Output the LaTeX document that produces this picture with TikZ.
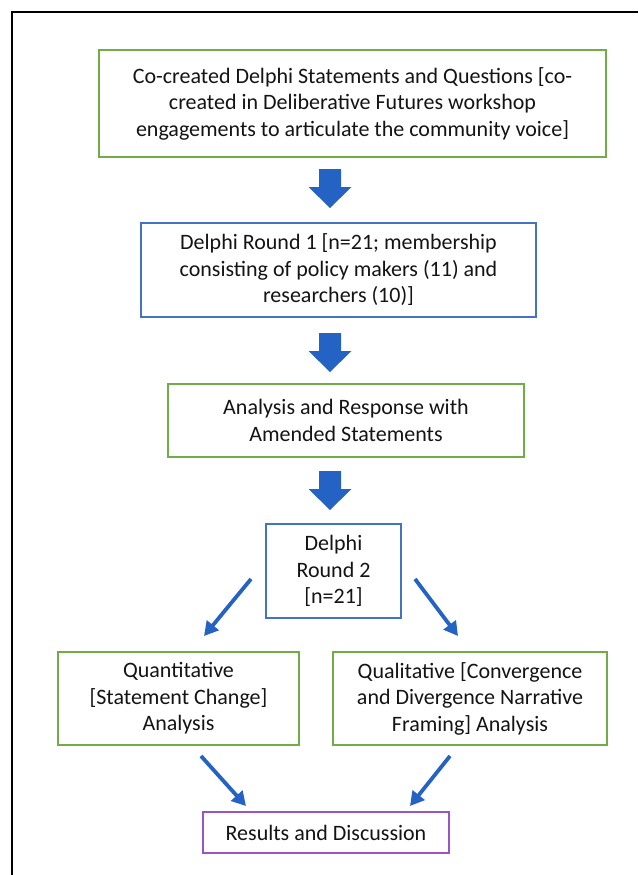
\documentclass[tikz,border=0pt]{standalone}
\usepackage{fontspec}
\setmainfont{Carlito}
\usetikzlibrary{arrows.meta,calc}
\definecolor{boxgreen}{RGB}{112,173,71}
\definecolor{boxblue}{RGB}{68,114,196}
\definecolor{arrblue}{RGB}{36,98,196}
\definecolor{boxpurple}{RGB}{155,85,195}
\definecolor{txt}{RGB}{20,20,20}
\begin{document}
\begin{tikzpicture}[x=1pt,y=-1pt,
  box/.style={draw, line width=1.3pt, rectangle, inner sep=0pt, align=center, text=txt,
    font=\fontsize{22}{26.5}\selectfont},
  gbox/.style={box, draw=boxgreen},
  bbox/.style={box, draw=boxblue},
  pbox/.style={box, draw=boxpurple},
  diag/.style={draw=arrblue, line width=3.8pt, -{Triangle[length=14pt,width=15pt]}},
]
\useasboundingbox (0,0) rectangle (638,875);
\fill[white] (0,0) rectangle (638,875);
\draw[line width=2pt, black] (638,12) -- (12,12) -- (12,876);

\node[gbox, minimum width=507pt, minimum height=107pt] (b1) at (352.5,103.5)
  {Co-created Delphi Statements and Questions [co-\\created in Deliberative Futures workshop\\engagements to articulate the community voice]};
\node[bbox, minimum width=395pt, minimum height=94pt] (b2) at (338.5,270)
  {Delphi Round 1 [n=21; membership\\consisting of policy makers (11) and\\researchers (10)]};
\node[gbox, minimum width=356pt, minimum height=73pt] (b3) at (346,420.5)
  {Analysis and Response with\\Amended Statements};
\node[bbox, minimum width=135pt, minimum height=94pt] (b4) at (333.5,571)
  {Delphi\\Round 2\\{[n=21]}};
\node[gbox, minimum width=241pt, minimum height=93pt] (b5) at (178.5,698.5)
  {Quantitative\\{[Statement Change]}\\Analysis};
\node[gbox, minimum width=274pt, minimum height=93pt] (b6) at (470,698.5)
  {Qualitative [Convergence\\and Divergence Narrative\\Framing] Analysis};
\node[pbox, minimum width=246pt, minimum height=41pt] (b7) at (326,832.5)
  {Results and Discussion};

% block arrows
\foreach \n/\yy in {a1/169, a2/333, a3/471}{
  \coordinate (\n) at (330,\yy);
  \fill[arrblue] (\n) ++(-11,0) -- ++(22,0) -- ++(0,18) -- ++(10.5,0) -- ++(-21.5,21) -- ++(-21.5,-21) -- ++(10.5,0) -- cycle;
}

% diagonal arrows
\coordinate (d1s) at (251,579); \coordinate (d1e) at (204,636);
\coordinate (d2s) at (415,579); \coordinate (d2e) at (458,636);
\coordinate (d3s) at (201,756); \coordinate (d3e) at (246,806);
\coordinate (d4s) at (450,756); \coordinate (d4e) at (410,806);
\draw[diag] (d1s) -- (d1e);
\draw[diag] (d2s) -- (d2e);
\draw[diag] (d3s) -- (d3e);
\draw[diag] (d4s) -- (d4e);
\end{tikzpicture}
\end{document}
